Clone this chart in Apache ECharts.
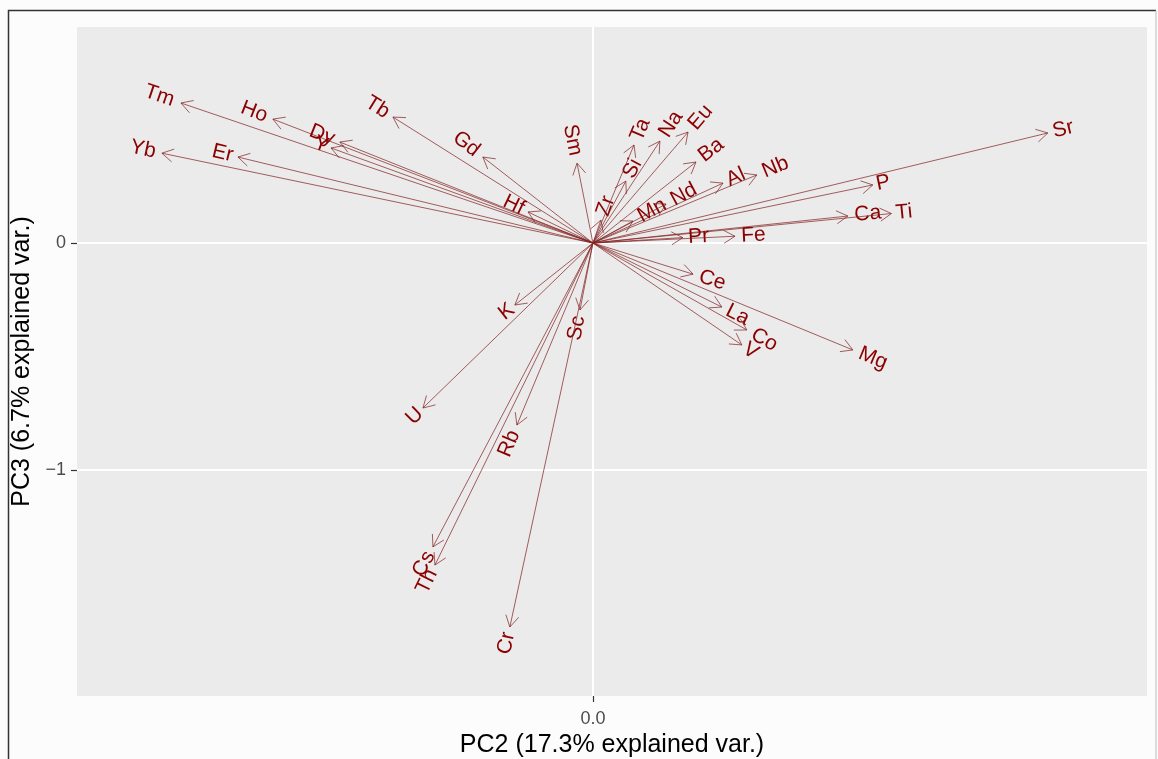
<!DOCTYPE html>
<html>
<head>
<meta charset="utf-8">
<script src="https://cdn.jsdelivr.net/npm/echarts@6/dist/echarts.min.js"></script>
<style>
html,body{margin:0;padding:0;background:#fcfcfc;}
#chart{width:1158px;height:759px;}
</style>
</head>
<body>
<div id="chart"></div>
<script>
// Variable names and loadings (PC2, PC3)
const varNames = ['Tm','Ho','Dy','Y','Tb','Gd','Hf','Sm','Yb','Er',
  'Sr','P','Ca','Ti','Pr','Fe','Al','Nb','Mn','Nd','Zr','Si','Ta','Na','Eu','Ba',
  'Ce','La','Co','V','Mg','K','U','Sc','Rb','Cs','Th','Cr'];
const pc2 = [-1.815,-1.410,-1.115,-1.154,-0.881,-0.485,-0.286,-0.070,-1.899,-1.564,
  2.004,1.233,1.123,1.315,0.396,0.626,0.573,0.722,0.176,0.322,0.035,0.145,0.181,0.295,0.419,0.454,
  0.441,0.568,0.678,0.656,1.145,-0.344,-0.749,-0.057,-0.335,-0.705,-0.696,-0.366];
const pc3 = [0.617,0.546,0.445,0.419,0.555,0.379,0.137,0.352,0.396,0.379,
  0.485,0.256,0.119,0.130,0.024,0.030,0.264,0.300,0.097,0.172,0.101,0.273,0.432,0.449,0.489,0.357,
  -0.137,-0.282,-0.383,-0.449,-0.471,-0.273,-0.727,-0.295,-0.802,-1.339,-1.419,-1.692];
const xTicks = [0];
const yTicks = [0,-1];
const xTitle = 'PC2 (17.3% explained var.)';
const yTitle = 'PC3 (6.7% explained var.)';

const FONT_FAMILY = '"Liberation Sans", Arial, sans-serif';
const LABEL_FONT = '21px ' + FONT_FAMILY;
const measureCtx = document.createElement('canvas').getContext('2d');
measureCtx.font = LABEL_FONT;
function textW(s){ return measureCtx.measureText(s).width; }

const data = varNames.map((n,i)=>[pc2[i], pc3[i]]);

const chart = echarts.init(document.getElementById('chart'), null, {renderer:'canvas'});
const fmt = v => (v < 0 ? '\u2212' + Math.abs(v) : String(v));

chart.setOption({
  backgroundColor: '#fcfcfc',
  animation: false,
  grid: {left:77, top:27, right:11, bottom:63, show:true, backgroundColor:'#EBEBEB', borderWidth:0,
    containLabel:false, outerBoundsMode:'none'},
  graphic: [
    {type:'polyline', silent:true, z:100,
      shape:{points:[[8.5,770],[8.5,10.5],[1156,10.5]]},
      style:{fill:null, stroke:'#333', lineWidth:1.5}},
    {type:'line', silent:true, z:100,
      shape:{x1:1156, y1:10.5, x2:1156, y2:770},
      style:{stroke:'#bbb', lineWidth:1}}
  ],
  xAxis: {
    type:'value', min:-2.273, max:2.441,
    axisLine:{show:false, onZero:false}, splitLine:{show:false},
    axisTick:{show:true, customValues:xTicks, length:6, lineStyle:{color:'#333', width:1.2}},
    axisLabel:{customValues:xTicks, formatter:v=>v.toFixed(1), margin:14, fontSize:18,
      color:'#4D4D4D', fontFamily:FONT_FAMILY},
    name:xTitle, nameLocation:'middle', nameGap:36,
    nameTextStyle:{fontSize:25, color:'#000', fontFamily:FONT_FAMILY}
  },
  yAxis: {
    type:'value', min:-1.996, max:0.952,
    axisLine:{show:false, onZero:false}, splitLine:{show:false},
    axisTick:{show:true, customValues:yTicks, length:6, lineStyle:{color:'#333', width:1.2}},
    axisLabel:{customValues:yTicks, formatter:fmt, margin:11, fontSize:18,
      color:'#4D4D4D', fontFamily:FONT_FAMILY},
    name:yTitle, nameLocation:'middle', nameGap:32,
    nameTextStyle:{fontSize:25, color:'#000', fontFamily:FONT_FAMILY}
  },
  series: [
    {
      type:'line', data:[], silent:true, z:1,
      markLine:{
        silent:true, symbol:['none','none'], label:{show:false},
        lineStyle:{color:'#ffffff', width:2, type:'solid'},
        data: xTicks.map(v=>({xAxis:v})).concat(yTicks.map(v=>({yAxis:v})))
      }
    },
    {
      type:'custom', z:5, silent:true, clip:false,
      data: data,
      renderItem: function(params, api){
        const x = api.value(0), y = api.value(1);
        const o = api.coord([0,0]);
        const t = api.coord([x,y]);
        const dx = t[0]-o[0], dy = t[1]-o[1];
        const L = Math.hypot(dx,dy);
        const bx = -dx/L, by = -dy/L;
        const ah = 13, a = Math.PI/6;
        const c = Math.cos(a), s = Math.sin(a);
        const p1 = [t[0] + ah*(bx*c - by*s), t[1] + ah*(bx*s + by*c)];
        const p2 = [t[0] + ah*(bx*c + by*s), t[1] + ah*(-bx*s + by*c)];
        const name = varNames[params.dataIndex];
        const w = textW(name);
        const rot = Math.atan(y/x);
        const pos = x >= 0;
        const lineStyle = {stroke:'rgba(131,36,36,0.72)', lineWidth:1, fill:null};
        return {
          type:'group',
          children:[
            {type:'line', shape:{x1:o[0], y1:o[1], x2:t[0], y2:t[1]}, style:lineStyle},
            {type:'polyline', shape:{points:[p1, t, p2]}, style:lineStyle},
            {type:'text', x:t[0], y:t[1], rotation:rot,
              style:{text:name, x: pos ? 0.25*w : -0.25*w, y:0,
                align: pos ? 'left' : 'right', verticalAlign:'middle',
                font: LABEL_FONT, fill:'#8B0000'}}
          ]
        };
      }
    }
  ]
});
</script>
</body>
</html>
